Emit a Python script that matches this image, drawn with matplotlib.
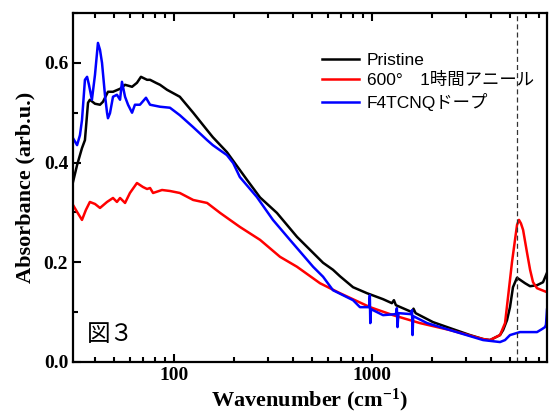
import matplotlib
matplotlib.use('Agg')
import matplotlib.pyplot as plt
from matplotlib.ticker import LogLocator, NullFormatter, FuncFormatter, MultipleLocator

plt.rcParams['font.family'] = 'Liberation Serif'
plt.rcParams['font.weight'] = 'bold'
plt.rcParams['mathtext.default'] = 'regular'

# Pristine film
wn_pristine = [30.9, 32.4, 34.3, 35.5, 36.8, 37.6, 39.9, 42.3, 43.8, 46.4, 49.2, 53.4,
               56.6, 61.4, 65.0, 68.1, 73.1, 75.7, 81, 85.0, 92.2, 107, 125, 147, 157,
               185, 234, 272, 331, 418, 566, 635, 689, 802, 943, 1137, 1260, 1290,
               1320, 1592, 1620, 1660, 2032, 2477, 3126, 3639, 3945, 4430, 4592, 4806,
               4975, 5150, 5396, 5586, 5927, 6284, 6810, 7304, 7650]
abs_pristine = [0.361, 0.395, 0.429, 0.445, 0.520, 0.526, 0.518, 0.516, 0.522, 0.542,
                0.542, 0.548, 0.556, 0.552, 0.560, 0.572, 0.566, 0.566, 0.560, 0.556,
                0.546, 0.532, 0.500, 0.465, 0.451, 0.421, 0.365, 0.330, 0.299, 0.251,
                0.199, 0.185, 0.172, 0.150, 0.138, 0.126, 0.118, 0.124, 0.114, 0.100,
                0.107, 0.098, 0.080, 0.068, 0.054, 0.046, 0.044, 0.054, 0.064, 0.084,
                0.110, 0.150, 0.169, 0.165, 0.158, 0.152, 0.154, 0.160, 0.179]

# after 600 deg, 1 h anneal
wn_anneal = [30.9, 32.4, 34.3, 35.9, 37.6, 39.9, 42.3, 45.9, 49.2, 51.5, 53.4, 56.6,
             59.9, 65.0, 69.7, 73.1, 75.7, 78.4, 87.0, 95.4, 107, 125, 147, 171, 215,
             272, 343, 418, 546, 689, 977, 1276, 1747, 2477, 3639, 3945, 4430, 4696,
             4862, 5091, 5273, 5400, 5522, 5650, 5793, 6066, 6284, 6503, 6810, 7218,
             7650]
abs_anneal = [0.315, 0.301, 0.285, 0.305, 0.321, 0.317, 0.309, 0.321, 0.329, 0.321,
              0.329, 0.319, 0.339, 0.359, 0.351, 0.347, 0.349, 0.339, 0.345, 0.343,
              0.339, 0.325, 0.319, 0.299, 0.271, 0.245, 0.211, 0.191, 0.158, 0.138,
              0.110, 0.094, 0.078, 0.064, 0.046, 0.044, 0.054, 0.078, 0.130, 0.200,
              0.245, 0.275, 0.285, 0.278, 0.265, 0.219, 0.185, 0.160, 0.148, 0.144,
              0.140]

# F4TCNQ doped
wn_doped = [30.9, 32.4, 33.5, 34.3, 35.5, 36.4, 37.2, 38.5, 39.9, 41.3, 42.3, 43.3,
            44.8, 45.9, 46.4, 47.5, 49.2, 51.5, 53.4, 54.6, 56.6, 58.6, 61.4, 63.5,
            67.3, 72.2, 75.7, 85.0, 95.4, 107, 125, 147, 157, 185, 199, 215, 262,
            316, 385, 504, 566, 635, 802, 869, 966, 975, 980, 988, 1137, 1320, 1335,
            1345, 1360, 1570, 1592, 1602, 1615, 1897, 2477, 3639, 4430, 4696, 4975,
            5586, 6810, 7218, 7474, 7560, 7650]
abs_doped = [0.449, 0.435, 0.455, 0.485, 0.566, 0.572, 0.556, 0.526, 0.576, 0.640,
             0.626, 0.600, 0.536, 0.500, 0.489, 0.499, 0.532, 0.536, 0.526, 0.562,
             0.532, 0.516, 0.500, 0.516, 0.516, 0.530, 0.516, 0.512, 0.510, 0.495,
             0.471, 0.445, 0.435, 0.415, 0.399, 0.371, 0.331, 0.285, 0.245, 0.191,
             0.171, 0.144, 0.124, 0.110, 0.110, 0.134, 0.078, 0.106, 0.094, 0.096,
             0.108, 0.070, 0.098, 0.096, 0.104, 0.054, 0.092, 0.078, 0.064, 0.044,
             0.040, 0.044, 0.054, 0.060, 0.060, 0.066, 0.070, 0.075, 0.105]

labels = ['Pristine', '600°\u30001時間アニール', 'F4TCNQドープ']
colors = ['black', 'red', 'blue']
peak_wn = 5400

fig = plt.figure(figsize=(5.49, 4.16), dpi=100)
ax = fig.add_axes([73/549, 54/416, 474/549, 349/416])

ax.plot(wn_pristine, abs_pristine, color=colors[0], lw=1.8, label=labels[0])
ax.plot(wn_anneal, abs_anneal, color=colors[1], lw=1.8, label=labels[1])
ax.plot(wn_doped, abs_doped, color=colors[2], lw=1.8, label=labels[2])
ax.axvline(peak_wn, color='#333333', lw=0.9, ls=(0, (4, 2.5)))

ax.set_xscale('log')
ax.set_xlim(30.9, 7650)
ax.set_ylim(0, 0.7)

ax.xaxis.set_major_locator(LogLocator(base=10))
ax.xaxis.set_minor_locator(LogLocator(base=10, subs=range(2, 10)))
ax.xaxis.set_major_formatter(FuncFormatter(lambda v, p: '%d' % v))
ax.xaxis.set_minor_formatter(NullFormatter())
ax.yaxis.set_major_locator(MultipleLocator(0.2))
ax.yaxis.set_minor_locator(MultipleLocator(0.1))
ax.yaxis.set_major_formatter(FuncFormatter(lambda v, p: '%.1f' % v))

ax.tick_params(which='both', direction='in', top=True, right=False, width=1.5,
               labelsize=14)
ax.tick_params(which='major', length=6)
ax.tick_params(which='minor', length=3.5)
for s in ax.spines.values():
    s.set_linewidth(1.6)

ax.set_xlabel('Wavenumber (cm$^{-1}$)', fontsize=16, fontweight='bold', labelpad=2)
ax.set_ylabel('Absorbance (arb.u.)', fontsize=16, fontweight='bold', labelpad=6)

leg = ax.legend(loc='upper left', bbox_to_anchor=(0.525, 0.887), frameon=False,
                borderpad=0, borderaxespad=0, handlelength=2.15, handletextpad=0.45,
                labelspacing=0.27,
                prop={'family': ['Liberation Sans', 'Noto Sans CJK JP'], 'size': 12.5,
                      'weight': 'normal'})

ax.text(0.03, 0.045, '図３', transform=ax.transAxes, fontsize=17,
        family='Noto Sans CJK JP', fontweight='normal', va='bottom')

fig.savefig('out.png', dpi=100)
